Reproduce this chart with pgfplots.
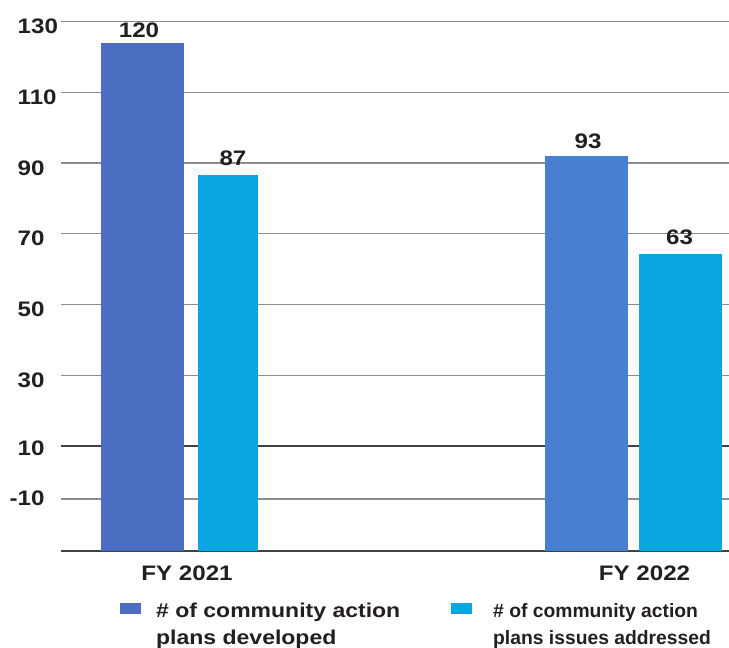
\documentclass[border=0pt]{standalone}
\usepackage{pgfplots}
\pgfplotsset{compat=1.18}
\usepackage{fontspec}
\setmainfont{Liberation Sans}
\newfontfamily\wfont[FakeStretch=1.15]{Liberation Sans}
\definecolor{c1}{HTML}{4B6EC3}
\definecolor{c2}{HTML}{08A6E3}
\definecolor{c3}{HTML}{487FD0}
\definecolor{txt}{HTML}{231F20}
\definecolor{gridc}{HTML}{8C8C8C}
\newcommand\tickfont{\wfont\bfseries\fontsize{21}{25}\selectfont}
\newcommand\legAfont{\wfont\bfseries\fontsize{20}{27.5}\selectfont}
\newcommand\legBfont{\bfseries\fontsize{19.3}{27}\selectfont}
\begin{document}
\begin{tikzpicture}[x=1pt,y=1pt]
\begin{axis}[
  set layers=standard,
  at={(61pt,97pt)}, anchor=south west,
  scale only axis, width=668pt, height=529.3pt,
  y coord trafo/.code={\pgfmathparse{#1+19.7}},
  y coord inv trafo/.code={\pgfmathparse{#1-19.7}},
  xmin=61, xmax=729, ymin=-19.7, ymax=130,
  clip=false,
  axis line style={draw=none},
  major tick length=0pt,
  ytick={130,110,90,70,50,30,-5},
  yticklabels={130,110,90,70,50,30,\raisebox{5.6pt}{\llap{-}10}},
  extra y ticks={10,-19.7},
  extra y tick labels={\raisebox{2.3pt}{10},{}},
  extra y tick style={grid style={color=txt!85, line width=1.1pt}},
  ymajorgrids,
  grid style={color=gridc, line width=1.3pt},
  xtick={187,644.5}, xticklabels={FY 2021,FY 2022},
  yticklabel style={anchor=base west, inner sep=0pt, xshift=-43.5pt, yshift=-12pt, font=\tickfont, text=txt},
  xticklabel style={anchor=base, inner sep=0pt, yshift=-30pt, font=\tickfont, text=txt},
  legend columns=2,
  legend style={at={(axis description cs:0.0883,-0.0883)}, anchor=north west, draw=none, fill=none, inner sep=0pt, column sep=0pt, row sep=0pt, cells={anchor=base west}, nodes={inner sep=0pt, text depth={}}},
]
\addplot[ybar, bar width=83, bar shift=0pt, fill=c1, draw=none,
  point meta=explicit symbolic, nodes near coords,
  every node near coord/.append style={font=\tickfont, text=txt, anchor=south, inner sep=0pt, xshift=-3.5pt, yshift=5pt},
  legend image code/.code={\fill[c1] (0pt,3pt) rectangle (21pt,14pt);}]
  coordinates {(142.5,124.06) [120]};
\addlegendentry{\legAfont\color{txt}\makebox[310pt][l]{\hspace*{15pt}\begin{tabular}[t]{@{}l@{}}\# of community action\\plans developed\end{tabular}}}
\addplot[ybar, bar width=60, bar shift=0pt, fill=c2, draw=none,
  point meta=explicit symbolic, nodes near coords,
  every node near coord/.append style={font=\tickfont, text=txt, anchor=south, inner sep=0pt, xshift=5pt, yshift=8.7pt},
  legend image code/.code={\fill[c2] (0pt,3pt) rectangle (21pt,14pt);}]
  coordinates {(228,86.73) [87]};
\addlegendentry{\legBfont\color{txt}\hspace*{21pt}\begin{tabular}[t]{@{}l@{}}\# of community action\\plans issues addressed\end{tabular}}
\addplot[forget plot, ybar, bar width=83, bar shift=0pt, fill=c3, draw=none,
  point meta=explicit symbolic, nodes near coords,
  every node near coord/.append style={font=\tickfont, text=txt, anchor=south, inner sep=0pt, xshift=1.5pt, yshift=6.4pt}]
  coordinates {(586.5,92.1) [93]};
\addplot[forget plot, ybar, bar width=83, bar shift=0pt, fill=c2, draw=none,
  point meta=explicit symbolic, nodes near coords,
  every node near coord/.append style={font=\tickfont, text=txt, anchor=south, inner sep=0pt, xshift=-1pt, yshift=8.7pt}]
  coordinates {(680.5,64.4) [63]};
\end{axis}
\pgfresetboundingbox
\useasboundingbox (0,0) rectangle (729,648);
\end{tikzpicture}
\end{document}
